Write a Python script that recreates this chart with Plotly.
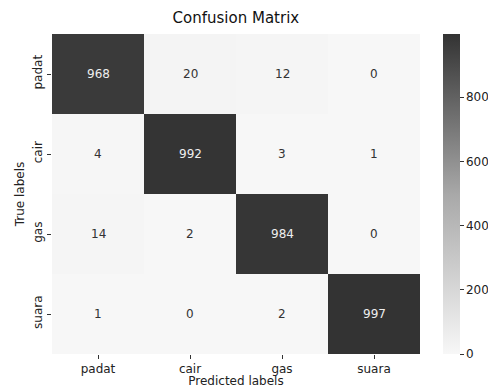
import plotly.graph_objects as go

labels = ["padat", "cair", "gas", "suara"]
matrix = [
    [968, 20, 12, 0],
    [4, 992, 3, 1],
    [14, 2, 984, 0],
    [1, 0, 2, 997],
]
cbar_ticks = [0, 200, 400, 600, 800]

fig = go.Figure()
fig.add_trace(go.Heatmap(
    z=matrix, x=labels, y=labels,
    colorscale=[[0, "#f7f7f7"], [0.5, "#a8a8a8"], [1, "#333333"]],
    zmin=0, zmax=997,
    showscale=True,
    colorbar=dict(x=1.0625, xanchor="left", y=0.5, len=1.0, lenmode="fraction",
                  thickness=17, xpad=0, ypad=0, outlinewidth=0, tickvals=cbar_ticks,
                  ticks="outside", ticklen=4, tickcolor="#333",
                  tickfont=dict(family="DejaVu Sans", size=12, color="#222")),
    hoverinfo="skip",
))

for i, row in enumerate(matrix):
    for j, v in enumerate(row):
        fig.add_annotation(x=labels[j], y=labels[i], text=str(v), showarrow=False,
                           font=dict(family="DejaVu Sans", size=12,
                                     color="#eeeeee" if v > 500 else "#333333"))

fig.update_layout(
    width=488, height=380,
    margin=dict(l=44, r=76, t=26, b=34, autoexpand=False),
    paper_bgcolor="white", plot_bgcolor="white",
    title=dict(text="Confusion Matrix", x=0.467, xanchor="center", y=0.974, yanchor="middle",
               font=dict(family="DejaVu Sans", size=15, color="#111")),
    font=dict(family="DejaVu Sans", color="#222"),
    xaxis=dict(categoryorder="array", categoryarray=labels, showgrid=False, zeroline=False,
               ticks="outside", ticklen=4, tickcolor="#333",
               tickfont=dict(size=12), title=dict(text="Predicted labels", font=dict(size=12), standoff=2)),
    yaxis=dict(categoryorder="array", categoryarray=labels[::-1], showgrid=False, zeroline=False,
               ticks="outside", ticklen=4, tickcolor="#333", tickangle=-90,
               tickfont=dict(size=12), title=dict(text="True labels", font=dict(size=12), standoff=4)),
)

fig.write_html("out.html")
